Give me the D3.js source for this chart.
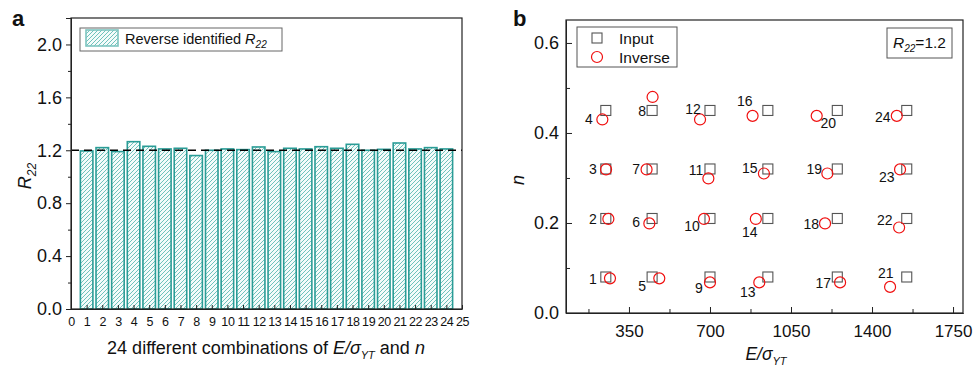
<!DOCTYPE html>
<html>
<head>
<meta charset="utf-8">
<script src="https://cdn.jsdelivr.net/npm/d3@7"></script>
<style>
  body { margin: 0; background: #fff; }
  svg text { font-family: "Liberation Sans", Arial, sans-serif; fill: #111; }
</style>
</head>
<body>
<div class="canvas"></div>
<script>
// data, panel a
const combos = d3.range(1, 25)
const r22Values = [1.195, 1.22, 1.19, 1.265, 1.23, 1.21, 1.215, 1.16, 1.20, 1.21, 1.205, 1.225,
                   1.19, 1.215, 1.21, 1.227, 1.215, 1.245, 1.20, 1.207, 1.255, 1.21, 1.22, 1.21]
const r22Ref = 1.2
const yTicksA = [0, 0.4, 0.8, 1.2, 1.6, 2.0]

// data, panel b
const inputE = [250, 250, 250, 250, 450, 450, 450, 450, 700, 700, 700, 700,
                950, 950, 950, 950, 1250, 1250, 1250, 1250, 1550, 1550, 1550, 1550]
const inputN = [0.08, 0.21, 0.32, 0.45, 0.08, 0.21, 0.32, 0.45, 0.08, 0.21, 0.32, 0.45,
                0.08, 0.21, 0.32, 0.45, 0.08, 0.21, 0.32, 0.45, 0.08, 0.21, 0.32, 0.45]
const inverseE = [268, 261, 251, 235, 481, 438, 426, 452, 700, 674, 693, 657,
                  913, 898, 933, 884, 1262, 1197, 1207, 1161, 1478, 1517, 1521, 1507]
const inverseN = [0.077, 0.209, 0.319, 0.43, 0.077, 0.199, 0.319, 0.48, 0.068, 0.209, 0.299, 0.43,
                  0.068, 0.209, 0.31, 0.438, 0.068, 0.199, 0.31, 0.438, 0.058, 0.19, 0.319, 0.438]
const pointLabels = d3.range(1, 25).map(String)
const xTicksB = [350, 700, 1050, 1400, 1750]
const yTicksB = [0, 0.2, 0.4, 0.6]

// label offsets from the input square (px)
const labelOffset = [[-13,2],[-13,0.5],[-13,0],[-17,8.5],[-10,9],[-16,3.5],[-16,0],[-10,0.5],
                     [-11,11],[-18,7.5],[-14,1],[-17,-1.5],[-20,15],[-18,13.5],[-18,-1],[-23,-9.5],
                     [-14,6],[-26,5.5],[-23,0],[-9,12.5],[-21,-4],[-22,1.5],[-20,8],[-24,6.5]]

const svgWidth = 973
const svgHeight = 370
const teal = "#2a9c96"

const svg = d3.select(".canvas")
    .append("svg")
    .attr("width", svgWidth)
    .attr("height", svgHeight)

// hatch pattern for the bars
const defs = svg.append("defs")
const pat = defs.append("pattern")
    .attr("id", "hatch")
    .attr("patternUnits", "userSpaceOnUse")
    .attr("width", 4).attr("height", 4)
pat.append("rect").attr("width", 4).attr("height", 4).attr("fill", "#f4fbfa")
pat.append("path")
    .attr("d", "M-1,1 l2,-2 M0,4 l4,-4 M3,5 l2,-2")
    .attr("stroke", "#6fc2bc")
    .attr("stroke-width", 1)

// ---------- panel a ----------
const a = {left: 71, right: 462, top: 18, bottom: 309}

const xA = d3.scaleLinear().domain([0, 25]).range([a.left, a.right])
const yA = d3.scaleLinear().domain([0, 2.2]).range([a.bottom, a.top])
const unit = xA(1) - xA(0)
const barW = unit * 0.8

const gA = svg.append("g")

gA.selectAll("rect.bar")
    .data(r22Values)
    .enter()
    .append("rect")
        .attr("class", "bar")
        .attr("x", (d, i) => xA(combos[i]) - barW / 2)
        .attr("y", d => yA(d))
        .attr("width", barW)
        .attr("height", d => yA(0) - yA(d))
        .attr("fill", "url(#hatch)")
        .attr("stroke", teal)
        .attr("stroke-width", 1.6)

gA.append("line")
    .attr("x1", xA(0)).attr("x2", xA(25))
    .attr("y1", yA(r22Ref)).attr("y2", yA(r22Ref))
    .attr("stroke", "#000")
    .attr("stroke-width", 1.5)
    .attr("stroke-dasharray", "8,5")

// frame
gA.append("rect")
    .attr("x", a.left).attr("y", a.top)
    .attr("width", a.right - a.left).attr("height", a.bottom - a.top)
    .attr("fill", "none").attr("stroke", "#222").attr("stroke-width", 1.2)

// y axis a (ticks outward)
const yAxisA = gA.append("g")
    .attr("transform", `translate(${a.left},0)`)
    .call(d3.axisLeft(yA).tickValues(yTicksA).tickFormat(d3.format(".1f")).tickSize(5).tickPadding(4))
yAxisA.selectAll("text").style("font-size", "18px")
gA.append("g")
    .attr("transform", `translate(${a.left},0)`)
    .call(d3.axisLeft(yA).tickValues([0.2, 0.6, 1.0, 1.4, 1.8]).tickFormat("").tickSize(3))

// x axis a (ticks inward)
const xAxisA = gA.append("g")
    .attr("transform", `translate(0,${a.bottom})`)
    .call(d3.axisBottom(xA).tickValues(d3.range(0, 26)).tickFormat(d3.format("d")).tickSizeInner(-4).tickSizeOuter(0).tickPadding(8))
xAxisA.selectAll("text").style("font-size", "12.5px").attr("letter-spacing", "-0.4px")
svg.selectAll(".domain").attr("stroke", "#222")
svg.selectAll(".tick line").attr("stroke", "#222")

// legend a
gA.append("rect")
    .attr("x", 80).attr("y", 28).attr("width", 202).attr("height", 23)
    .attr("fill", "#fff").attr("stroke", "#666")
gA.append("rect")
    .attr("x", 86).attr("y", 30).attr("width", 32).attr("height", 16)
    .attr("fill", "url(#hatch)").attr("stroke", "#7cc5c0").attr("stroke-width", 1.6)
const legA = gA.append("text").attr("x", 125).attr("y", 44).style("font-size", "14.5px")
legA.append("tspan").text("Reverse identified ")
legA.append("tspan").attr("font-style", "italic").text("R")
legA.append("tspan").attr("font-style", "italic").attr("dy", 4).style("font-size", "10px").text("22")

// titles a
svg.append("text").attr("x", 12).attr("y", 26).style("font-size", "22px").style("font-weight", "bold").text("a")
const yLabA = svg.append("text")
    .attr("transform", "translate(31,176) rotate(-90)")
    .attr("text-anchor", "middle")
    .style("font-size", "18px")
yLabA.append("tspan").attr("font-style", "italic").text("R")
yLabA.append("tspan").attr("font-style", "italic").attr("dy", 5).style("font-size", "12px").text("22")

const xLabA = svg.append("text")
    .attr("x", 266).attr("y", 354)
    .attr("text-anchor", "middle")
    .style("font-size", "18px")
xLabA.append("tspan").text("24 different combinations of ")
xLabA.append("tspan").attr("font-style", "italic").text("E/σ")
xLabA.append("tspan").attr("font-style", "italic").attr("dy", 5).style("font-size", "11px").text("YT")
xLabA.append("tspan").attr("dy", -5).text(" and ")
xLabA.append("tspan").attr("font-style", "italic").text("n")

// ---------- panel b ----------
const b = {left: 566, right: 963, top: 20, bottom: 313}

const xB = d3.scaleLinear().domain([78, 1793]).range([b.left, b.right])
const yB = d3.scaleLinear().domain([0, 0.651]).range([b.bottom, b.top])

const gB = svg.append("g")

gB.append("rect")
    .attr("x", b.left).attr("y", b.top)
    .attr("width", b.right - b.left).attr("height", b.bottom - b.top)
    .attr("fill", "none").attr("stroke", "#222").attr("stroke-width", 1.2)

const xAxisB = gB.append("g")
    .attr("transform", `translate(0,${b.bottom})`)
    .call(d3.axisBottom(xB).tickValues(xTicksB).tickFormat(d3.format("d")).tickSizeInner(-6).tickSizeOuter(0).tickPadding(12))
xAxisB.selectAll("text").style("font-size", "17px")
gB.append("g")
    .attr("transform", `translate(0,${b.bottom})`)
    .call(d3.axisBottom(xB).tickValues([175, 525, 875, 1225, 1575]).tickFormat("").tickSizeInner(-4).tickSizeOuter(0))

const yAxisB = gB.append("g")
    .attr("transform", `translate(${b.left},0)`)
    .call(d3.axisLeft(yB).tickValues(yTicksB).tickFormat(d3.format(".1f")).tickSizeInner(-6).tickSizeOuter(0).tickPadding(7))
yAxisB.selectAll("text").style("font-size", "18px")
gB.append("g")
    .attr("transform", `translate(${b.left},0)`)
    .call(d3.axisLeft(yB).tickValues([0.1, 0.3, 0.5]).tickFormat("").tickSizeInner(-4).tickSizeOuter(0))
gB.selectAll(".domain").attr("stroke", "#222")
gB.selectAll(".tick line").attr("stroke", "#222")

// input squares
const sq = 10
gB.selectAll("rect.input")
    .data(inputE)
    .enter()
    .append("rect")
        .attr("class", "input")
        .attr("x", d => xB(d) - sq / 2)
        .attr("y", (d, i) => yB(inputN[i]) - sq / 2)
        .attr("width", sq).attr("height", sq)
        .attr("fill", "none")
        .attr("stroke", "#555")
        .attr("stroke-width", 1.1)

// inverse circles
gB.selectAll("circle.inverse")
    .data(inverseE)
    .enter()
    .append("circle")
        .attr("class", "inverse")
        .attr("cx", d => xB(d))
        .attr("cy", (d, i) => yB(inverseN[i]))
        .attr("r", 5.5)
        .attr("fill", "none")
        .attr("stroke", "#f01010")
        .attr("stroke-width", 1.2)

// point numbers
gB.selectAll("text.lbl")
    .data(pointLabels)
    .enter()
    .append("text")
        .attr("class", "lbl")
        .attr("x", (d, i) => xB(inputE[i]) + labelOffset[i][0])
        .attr("y", (d, i) => yB(inputN[i]) + labelOffset[i][1])
        .attr("text-anchor", "middle")
        .attr("dominant-baseline", "central")
        .style("font-size", "14px")
        .text(d => d)

// legend b
gB.append("rect")
    .attr("x", 577).attr("y", 27).attr("width", 100).attr("height", 40)
    .attr("fill", "#fff").attr("stroke", "#555")
gB.append("rect")
    .attr("x", 592).attr("y", 33).attr("width", sq).attr("height", sq)
    .attr("fill", "none").attr("stroke", "#555").attr("stroke-width", 1.1)
gB.append("circle")
    .attr("cx", 597).attr("cy", 57).attr("r", 5.5)
    .attr("fill", "none").attr("stroke", "#f01010").attr("stroke-width", 1.2)
gB.append("text").attr("x", 619).attr("y", 44).style("font-size", "15.5px").text("Input")
gB.append("text").attr("x", 619).attr("y", 63).style("font-size", "15.5px").text("Inverse")

// R22 box
gB.append("rect")
    .attr("x", 887).attr("y", 28).attr("width", 65).attr("height", 30)
    .attr("fill", "#fff").attr("stroke", "#555")
const rb = gB.append("text").attr("x", 893).attr("y", 48).style("font-size", "15.5px")
rb.append("tspan").attr("font-style", "italic").text("R")
rb.append("tspan").attr("font-style", "italic").attr("dy", 4).style("font-size", "10px").text("22")
rb.append("tspan").attr("dy", -4).text("=1.2")

// titles b
svg.append("text").attr("x", 513).attr("y", 26).style("font-size", "22px").style("font-weight", "bold").text("b")
svg.append("text")
    .attr("transform", "translate(524,180) rotate(-90)")
    .attr("text-anchor", "middle")
    .style("font-size", "18px")
    .attr("font-style", "italic")
    .text("n")
const xLabB = svg.append("text")
    .attr("x", 766).attr("y", 360)
    .attr("text-anchor", "middle")
    .style("font-size", "17.5px")
xLabB.append("tspan").attr("font-style", "italic").text("E/σ")
xLabB.append("tspan").attr("font-style", "italic").attr("dy", 5).style("font-size", "11px").text("YT")
</script>
</body>
</html>
